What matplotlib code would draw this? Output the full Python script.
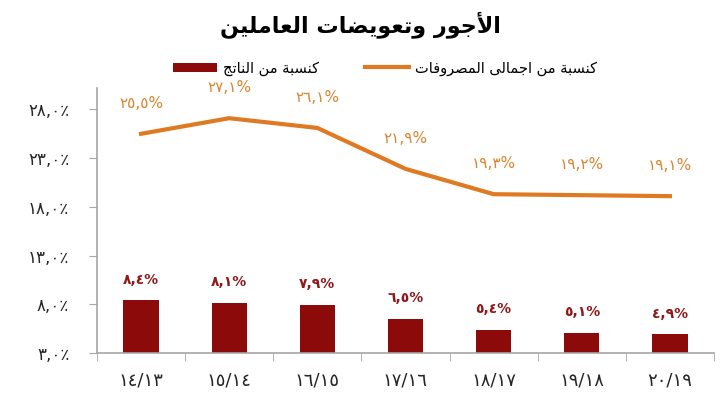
import matplotlib
matplotlib.use("Agg")
import matplotlib.pyplot as plt
from matplotlib.ticker import FixedLocator

# ---------------- data ----------------
categories = ["١٤/١٣", "١٥/١٤", "١٦/١٥", "١٧/١٦", "١٨/١٧", "١٩/١٨", "٢٠/١٩"]
pct_of_gdp = [8.4, 8.1, 7.9, 6.5, 5.4, 5.1, 4.9]
pct_of_expenditure = [25.5, 27.1, 26.1, 21.9, 19.3, 19.2, 19.1]
gdp_labels = ["٨,٤%", "٨,١%", "٧,٩%", "٦,٥%", "٥,٤%", "٥,١%", "٤,٩%"]
exp_labels = ["٢٥,٥%", "٢٧,١%", "٢٦,١%", "٢١,٩%", "١٩,٣%", "١٩,٢%", "١٩,١%"]
y_ticks = [3, 8, 13, 18, 23, 28]
y_tick_labels = ["٣,٠٪", "٨,٠٪", "١٣,٠٪", "١٨,٠٪", "٢٣,٠٪", "٢٨,٠٪"]
title_text = "الأجور وتعويضات العاملين"
legend_gdp = "كنسبة من الناتج"
legend_exp = "كنسبة من اجمالى المصروفات"

# ---------------- minimal Arabic shaping (visual order) ----------------
FORMS = {
    '\u0621': (0xFE80,),
    '\u0622': (0xFE81, 0xFE82), '\u0623': (0xFE83, 0xFE84), '\u0624': (0xFE85, 0xFE86),
    '\u0625': (0xFE87, 0xFE88), '\u0626': (0xFE89, 0xFE8A, 0xFE8B, 0xFE8C),
    '\u0627': (0xFE8D, 0xFE8E), '\u0628': (0xFE8F, 0xFE90, 0xFE91, 0xFE92),
    '\u0629': (0xFE93, 0xFE94), '\u062A': (0xFE95, 0xFE96, 0xFE97, 0xFE98),
    '\u062B': (0xFE99, 0xFE9A, 0xFE9B, 0xFE9C), '\u062C': (0xFE9D, 0xFE9E, 0xFE9F, 0xFEA0),
    '\u062D': (0xFEA1, 0xFEA2, 0xFEA3, 0xFEA4), '\u062E': (0xFEA5, 0xFEA6, 0xFEA7, 0xFEA8),
    '\u062F': (0xFEA9, 0xFEAA), '\u0630': (0xFEAB, 0xFEAC), '\u0631': (0xFEAD, 0xFEAE),
    '\u0632': (0xFEAF, 0xFEB0), '\u0633': (0xFEB1, 0xFEB2, 0xFEB3, 0xFEB4),
    '\u0634': (0xFEB5, 0xFEB6, 0xFEB7, 0xFEB8), '\u0635': (0xFEB9, 0xFEBA, 0xFEBB, 0xFEBC),
    '\u0636': (0xFEBD, 0xFEBE, 0xFEBF, 0xFEC0), '\u0637': (0xFEC1, 0xFEC2, 0xFEC3, 0xFEC4),
    '\u0638': (0xFEC5, 0xFEC6, 0xFEC7, 0xFEC8), '\u0639': (0xFEC9, 0xFECA, 0xFECB, 0xFECC),
    '\u063A': (0xFECD, 0xFECE, 0xFECF, 0xFED0), '\u0641': (0xFED1, 0xFED2, 0xFED3, 0xFED4),
    '\u0642': (0xFED5, 0xFED6, 0xFED7, 0xFED8), '\u0643': (0xFED9, 0xFEDA, 0xFEDB, 0xFEDC),
    '\u0644': (0xFEDD, 0xFEDE, 0xFEDF, 0xFEE0), '\u0645': (0xFEE1, 0xFEE2, 0xFEE3, 0xFEE4),
    '\u0646': (0xFEE5, 0xFEE6, 0xFEE7, 0xFEE8), '\u0647': (0xFEE9, 0xFEEA, 0xFEEB, 0xFEEC),
    '\u0648': (0xFEED, 0xFEEE), '\u0649': (0xFEEF, 0xFEF0),
    '\u064A': (0xFEF1, 0xFEF2, 0xFEF3, 0xFEF4),
}
LAMALEF = {'\u0622': (0xFEF5, 0xFEF6), '\u0623': (0xFEF7, 0xFEF8),
           '\u0625': (0xFEF9, 0xFEFA), '\u0627': (0xFEFB, 0xFEFC)}


def shape(s):
    toks = []
    i = 0
    while i < len(s):
        c = s[i]
        if c == '\u0644' and i + 1 < len(s) and s[i + 1] in LAMALEF:
            toks.append(('LA', s[i + 1]))
            i += 2
        else:
            toks.append(c)
            i += 1

    def joining(t):
        return isinstance(t, tuple) or (t in FORMS and len(FORMS[t]) > 1)

    def dual(t):
        return (not isinstance(t, tuple)) and t in FORMS and len(FORMS[t]) == 4

    out = []
    for k, t in enumerate(toks):
        prev = toks[k - 1] if k > 0 else None
        nxt = toks[k + 1] if k + 1 < len(toks) else None
        cp = prev is not None and dual(prev) and joining(t)
        cn = nxt is not None and dual(t) and joining(nxt)
        if isinstance(t, tuple):
            out.append(chr(LAMALEF[t[1]][1 if cp else 0]))
        elif t in FORMS:
            f = FORMS[t]
            if len(f) == 4:
                idx = 3 if (cp and cn) else 1 if cp else 2 if cn else 0
            elif len(f) == 2:
                idx = 1 if cp else 0
            else:
                idx = 0
            out.append(chr(f[idx]))
        else:
            out.append(t)
    return ''.join(reversed(out))


# ---------------- styling ----------------
plt.rcParams['font.family'] = ['DejaVu Sans']
BAR_COLOR = '#8C0A0A'
LINE_COLOR = '#E07A22'
LINE_LABEL_COLOR = '#D98530'
BAR_LABEL_COLOR = '#8C1A1A'
AXIS_COLOR = '#A6A6A6'

fig = plt.figure(figsize=(7.2, 3.96), dpi=100)
ax = fig.add_axes([97 / 720, 1 - 353 / 396, (714 - 97) / 720, (353 - 88) / 396])

x = list(range(len(categories)))
base = y_ticks[0]
bars = ax.bar(x, [v - base for v in pct_of_gdp], bottom=base, width=0.4,
              color=BAR_COLOR, zorder=2)
line, = ax.plot(x, pct_of_expenditure, color=LINE_COLOR, lw=3, zorder=3,
                solid_joinstyle='miter')

for xi, v, lab in zip(x, pct_of_gdp, gdp_labels):
    ax.annotate(lab, (xi, v), xytext=(0, 15), textcoords='offset points',
                ha='center', va='center', fontsize=10, fontweight='bold',
                color=BAR_LABEL_COLOR)
for xi, v, lab in zip(x, pct_of_expenditure, exp_labels):
    ax.annotate(lab, (xi, v), xytext=(0, 22), textcoords='offset points',
                ha='center', va='center', fontsize=11, color=LINE_LABEL_COLOR)

ax.set_xlim(-0.5, len(categories) - 0.5)
ax.set_ylim(3, 30.2)
ax.set_yticks(y_ticks)
ax.set_yticklabels(y_tick_labels, fontsize=12, color='#262626')
ax.set_xticks(x)
ax.set_xticklabels(categories, fontsize=13, color='#262626')
ax.xaxis.set_minor_locator(FixedLocator([i - 0.5 for i in range(len(categories) + 1)]))
ax.tick_params(axis='x', which='major', length=0, pad=13)
ax.tick_params(axis='x', which='minor', length=6, color=AXIS_COLOR, direction='out')
ax.tick_params(axis='y', length=6, color=AXIS_COLOR, pad=14)

for sp in ['top', 'right']:
    ax.spines[sp].set_visible(False)
for sp in ['left', 'bottom']:
    ax.spines[sp].set_color(AXIS_COLOR)
    ax.spines[sp].set_linewidth(1.2)

fig.text(0.5, 1 - 25 / 396, shape(title_text), ha='center', va='center',
         fontsize=16, fontweight='bold', color='black')

leg = fig.legend([bars, line], [shape(legend_gdp), shape(legend_exp)],
                 loc='center', bbox_to_anchor=(385 / 720, 1 - 68 / 396),
                 ncol=2, frameon=False, fontsize=10.5, handlelength=3.0,
                 handletextpad=0.4, columnspacing=3.2, handleheight=0.6)

fig.savefig('out.png', dpi=100)
